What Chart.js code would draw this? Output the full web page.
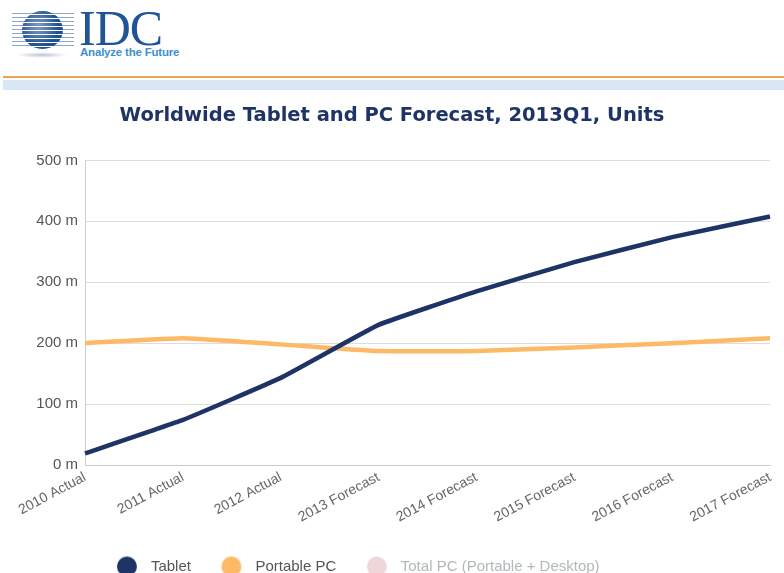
<!DOCTYPE html>
<html>
<head>
<meta charset="utf-8">
<script src="https://cdn.jsdelivr.net/npm/chart.js@4.4.0/dist/chart.umd.min.js"></script>
<style>
  html, body { margin: 0; padding: 0; background: #fff; }
  body { width: 784px; height: 573px; overflow: hidden; position: relative; font-family: "Liberation Sans", Arial, sans-serif; }
  .stripes { position: absolute; left: 12px; top: 13px; width: 62px; height: 34px;
    background: repeating-linear-gradient(to bottom, #8fa6c8 0 1px, transparent 1px 4px); }
  .globe { position: absolute; left: 22px; top: 11px; width: 41px; height: 38px; border-radius: 50%;
    background: repeating-linear-gradient(to bottom, #1e4f8f 0 3px, #ffffff 3px 4px); }
  .globe:after { content: ""; position: absolute; inset: 0; border-radius: 50%;
    background: radial-gradient(circle at 40% 40%, rgba(255,255,255,0.45), rgba(255,255,255,0) 60%); }
  .shadow { position: absolute; left: 16px; top: 52px; width: 52px; height: 6px; border-radius: 50%;
    background: radial-gradient(ellipse, rgba(120,140,180,0.5), rgba(255,255,255,0) 70%); }
  .idc { position: absolute; left: 79px; top: 4px; font-family: "Liberation Serif", "DejaVu Serif", serif;
    font-size: 50px; color: #1f5597; letter-spacing: -1px; line-height: 49px; }
  .tag { position: absolute; left: 80px; top: 46px; font-size: 11.5px; color: #3d8fd0; font-weight: bold; letter-spacing: -0.2px; }
  .rule { position: absolute; left: 3px; top: 76px; width: 781px; height: 2px; background: #e8a757; }
  .band { position: absolute; left: 3px; top: 80px; width: 781px; height: 10px; background: #d8e7f3; }
  .wrap { position: absolute; left: 0; top: 95px; width: 784px; height: 489px; }
</style>
</head>
<body>
<div class="stripes"></div>
<div class="globe"></div>
<div class="shadow"></div>
<div class="idc">IDC</div>
<div class="tag">Analyze the Future</div>
<div class="rule"></div>
<div class="band"></div>
<div class="wrap"><canvas id="myChart"></canvas></div>
<script>
const categories = ['2010 Actual', '2011 Actual', '2012 Actual', '2013 Forecast', '2014 Forecast', '2015 Forecast', '2016 Forecast', '2017 Forecast'];
const tablet = [19, 74, 143, 230, 285, 333, 374, 408];
const portablePC = [200, 208, 198, 187, 187, 193, 200, 208];
const totalPC = []; // series is switched off in the original, values not shown
const yTicks = [0, 100, 200, 300, 400, 500];

// legend marker: a circle drawn left of centre so the text sits further away
function legendDot(color) {
    const c = document.createElement('canvas');
    c.width = 44;
    c.height = 22;
    const g = c.getContext('2d');
    g.fillStyle = color;
    g.beginPath();
    g.arc(13, 11, 10, 0, Math.PI * 2);
    g.fill();
    return c;
}

// nudge the legend box: a bit left and up, and take back some of its height
const legendShift = {
    id: 'legendShift',
    beforeUpdate(chart) {
        const lg = chart.legend;
        if (lg && !lg._fitWrapped) {
            const fit = lg.fit;
            lg.fit = function () { fit.call(this); this.height -= 6; };
            lg._fitWrapped = true;
        }
    },
    afterLayout(chart) {
        const lg = chart.legend;
        lg.left -= 28;
        lg.right -= 28;
        lg.top -= 6;
        lg.bottom -= 6;
    }
};

const ctx = document.getElementById('myChart').getContext('2d');
const myChart = new Chart(ctx, {
    type: 'line',
    data: {
        labels: categories,
        datasets: [
            {
                label: 'Tablet',
                data: tablet,
                borderColor: '#1f3466',
                backgroundColor: '#1f3466',
                borderWidth: 4.5,
                pointRadius: 0,
                tension: 0.1
            },
            {
                label: 'Portable PC',
                data: portablePC,
                borderColor: '#fdb965',
                backgroundColor: '#fdb965',
                borderWidth: 4.5,
                pointRadius: 0,
                tension: 0.1
            },
            {
                label: 'Total PC (Portable + Desktop)',
                data: totalPC,
                borderColor: '#efd6d9',
                backgroundColor: '#efd6d9',
                borderWidth: 4.5,
                pointRadius: 0,
                hidden: true
            }
        ]
    },
    options: {
        responsive: true,
        maintainAspectRatio: false,
        animation: false,
        layout: { padding: { left: 14, right: 14, top: 0, bottom: 0 } },
        scales: {
            x: {
                offset: false,
                afterFit(scale) { scale.height = 58; },
                grid: { display: false, drawTicks: false },
                border: { display: true, color: '#cccccc' },
                ticks: {
                    color: '#666666',
                    font: { family: 'Liberation Sans', size: 14 },
                    minRotation: 28,
                    maxRotation: 28,
                    padding: 4
                }
            },
            y: {
                min: 0,
                max: 500,
                afterFit(scale) { scale.width = 71; },
                afterBuildTicks(scale) { scale.ticks = yTicks.map(v => ({ value: v })); },
                grid: { color: '#dddddd', drawTicks: false },
                border: { display: true, color: '#cccccc' },
                ticks: {
                    color: '#555555',
                    font: { family: 'Liberation Sans', size: 15 },
                    padding: 7,
                    callback: v => v + ' m'
                }
            }
        },
        plugins: {
            title: {
                display: true,
                text: 'Worldwide Tablet and PC Forecast, 2013Q1, Units',
                color: '#1f3466',
                font: { family: 'DejaVu Sans', size: 19.5, weight: 'bold' },
                padding: { top: 9, bottom: 33 }
            },
            legend: {
                display: true,
                position: 'bottom',
                onClick: null,
                labels: {
                    usePointStyle: true,
                    boxWidth: 15,
                    boxHeight: 15,
                    padding: 42,
                    font: { family: 'Liberation Sans', size: 15 },
                    generateLabels(chart) {
                        return chart.data.datasets.map((ds, i) => ({
                            text: ds.label,
                            fillStyle: ds.backgroundColor,
                            strokeStyle: ds.backgroundColor,
                            lineWidth: 0,
                            pointStyle: legendDot(ds.backgroundColor),
                            hidden: false,
                            fontColor: ds.hidden ? '#b0b8bb' : '#555555',
                            datasetIndex: i
                        }));
                    }
                }
            },
            tooltip: { enabled: false }
        }
    },
    plugins: [legendShift]
});
</script>
</body>
</html>
